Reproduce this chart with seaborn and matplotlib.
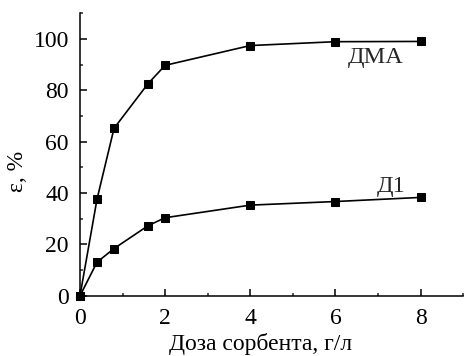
import matplotlib
matplotlib.use("Agg")
import matplotlib.pyplot as plt
from matplotlib.ticker import MultipleLocator
import numpy as np
import pandas as pd
import seaborn as sns

# Sorbent dose, g/L
dose = [0, 0.4, 0.8, 1.6, 2, 4, 6, 8]
# Extraction degree, %
eps_dma = [0, 37.6, 65.2, 82.6, 89.7, 97.4, 98.9, 99.0]
eps_d1 = [0, 13.1, 18.4, 27.3, 30.4, 35.3, 36.7, 38.3]
series_names = ["ДМА", "Д1"]

df = pd.concat([
    pd.DataFrame({"dose": dose, "eps": eps_dma, "series": series_names[0]}),
    pd.DataFrame({"dose": dose, "eps": eps_d1, "series": series_names[1]}),
])

sns.set_style("ticks")
plt.rcParams["font.family"] = ["Liberation Serif", "DejaVu Serif"]

fig = plt.figure(figsize=(4.65, 3.56), dpi=100)
ax = fig.add_axes([0.172, 0.169, 0.824, 0.794])

sns.lineplot(
    data=df, x="dose", y="eps", hue="series", style="series",
    palette=["black", "black"], markers=["s", "s"], dashes=False,
    markersize=6, linewidth=1.2, markeredgecolor="black",
    legend=False, ax=ax, clip_on=False, zorder=5,
)

ax.set_xlim(0, 9)
ax.set_ylim(0, 110)
ax.xaxis.set_major_locator(MultipleLocator(2))
ax.xaxis.set_minor_locator(MultipleLocator(1))
ax.yaxis.set_major_locator(MultipleLocator(20))
ax.yaxis.set_minor_locator(MultipleLocator(10))
ax.tick_params(which="major", direction="in", length=5, width=1.1,
               labelsize=17, colors="black")
ax.tick_params(axis="y", which="major", pad=8)
ax.tick_params(axis="x", which="major", pad=9)
ax.tick_params(which="minor", direction="in", length=2.5, width=1.1)

sns.despine(ax=ax)
for side in ("left", "bottom"):
    ax.spines[side].set_linewidth(1.1)
    ax.spines[side].set_color("black")

ax.set_xlabel("Доза сорбента, г/л", fontsize=17, color="black")
ax.xaxis.set_label_coords(0.472, -0.13)
ax.set_ylabel("ε, %", fontsize=17, color="black")
ax.yaxis.set_label_coords(-0.135, 0.44)

ax.text(6.94, 92.7, series_names[0], fontsize=17.5, ha="center", va="center")
ax.text(7.3, 42.4, series_names[1], fontsize=17.5, ha="center", va="center")

fig.savefig("out.png", dpi=100)
